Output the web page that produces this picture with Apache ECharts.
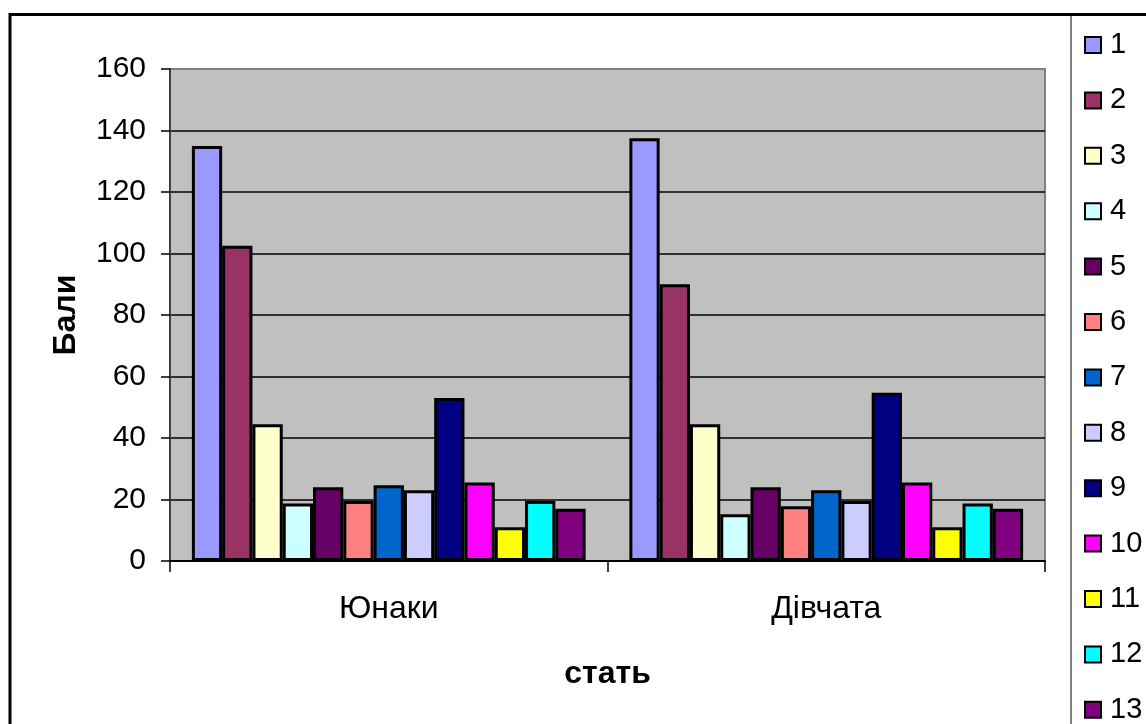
<!DOCTYPE html>
<html>
<head>
<meta charset="utf-8">
<script src="https://cdn.jsdelivr.net/npm/echarts@6/dist/echarts.min.js"></script>
<style>
  html, body { margin: 0; padding: 0; background: #fff; }
  #chart { width: 1146px; height: 724px; }
</style>
</head>
<body>
<div id="chart"></div>
<script>
// Groups on the x axis
var categories = ['Юнаки', 'Дівчата'];
// Series (indicator numbers shown in the legend)
var seriesNames = ['1', '2', '3', '4', '5', '6', '7', '8', '9', '10', '11', '12', '13'];
// Scores per indicator, one array per group
var boysValues  = [135, 102.5, 44.5, 18.7, 24, 19.5, 24.6, 23, 53, 25.5, 11, 19.5, 17];
var girlsValues = [137.5, 90, 44.5, 15.2, 24, 17.8, 23, 19.5, 54.7, 25.5, 11, 18.7, 17];
// Value axis ticks
var yTicks = [0, 20, 40, 60, 80, 100, 120, 140, 160];

// Classic office chart palette
var palette = ['#9999FF', '#993366', '#FFFFCC', '#CCFFFF', '#660066', '#FF8080',
               '#0066CC', '#CCCCFF', '#000080', '#FF00FF', '#FFFF00', '#00FFFF', '#800080'];

var FONT = '"Liberation Sans", Arial, sans-serif';

var series = seriesNames.map(function (name, i) {
  return {
    name: name,
    type: 'bar',
    data: [boysValues[i], girlsValues[i]],
    barGap: '0%',
    barCategoryGap: '10%',
    itemStyle: { color: palette[i], borderColor: '#000', borderWidth: 3 }
  };
});

var chart = echarts.init(document.getElementById('chart'), null, { renderer: 'canvas' });
chart.setOption({
  animation: false,
  backgroundColor: '#fff',
  textStyle: { fontFamily: FONT },
  grid: {
    left: 170, top: 69, width: 875, height: 492,
    show: true, backgroundColor: '#C0C0C0', borderColor: '#808080', borderWidth: 2
  },
  legend: {
    orient: 'vertical',
    left: 1084, top: 30, height: 700,
    padding: 0,
    itemWidth: 16, itemHeight: 16, itemGap: 25.4,
    icon: 'rect',
    itemStyle: { borderColor: '#000', borderWidth: 2 },
    textStyle: { fontFamily: FONT, fontSize: 29, lineHeight: 30, color: '#000', padding: [0, 0, 0, 4] },
    data: seriesNames
  },
  xAxis: {
    type: 'category',
    data: categories,
    name: 'стать',
    nameLocation: 'middle',
    nameGap: 97,
    nameTextStyle: { fontFamily: FONT, fontSize: 32, fontWeight: 'bold', color: '#000', lineHeight: 32 },
    axisLine: { show: true, lineStyle: { color: '#000', width: 2 } },
    axisTick: { show: true, length: 11, lineStyle: { color: '#000', width: 1.5 } },
    axisLabel: { fontFamily: FONT, fontSize: 32, color: '#000', margin: 32, lineHeight: 32 },
    splitLine: { show: false }
  },
  yAxis: {
    type: 'value',
    min: yTicks[0], max: yTicks[yTicks.length - 1], interval: yTicks[1] - yTicks[0],
    name: 'Бали',
    nameLocation: 'middle',
    nameRotate: 90,
    nameGap: 88,
    nameTextStyle: { fontFamily: FONT, fontSize: 32, fontWeight: 'bold', color: '#000' },
    axisLine: { show: true, lineStyle: { color: '#404040', width: 2 } },
    axisTick: { show: true, inside: false, length: 9, lineStyle: { color: '#000', width: 1.5 } },
    axisLabel: { fontFamily: FONT, fontSize: 30, color: '#000', margin: 24 },
    splitLine: {
      show: true,
      lineStyle: {
        color: ['#000', '#000', '#000', '#000', '#000', '#000', '#000', '#000', '#808080'],
        width: 1.5
      }
    }
  },
  graphic: [
    // legend frame
    { type: 'rect', z: 50, silent: true,
      shape: { x: 1071, y: 14, width: 300, height: 900 },
      style: { fill: 'none', stroke: '#808080', lineWidth: 2 } },
    // outer chart frame
    { type: 'rect', z: 60, silent: true,
      shape: { x: 10, y: 14.5, width: 1300, height: 900 },
      style: { fill: 'none', stroke: '#000', lineWidth: 3 } }
  ],
  series: series
});
</script>
</body>
</html>
